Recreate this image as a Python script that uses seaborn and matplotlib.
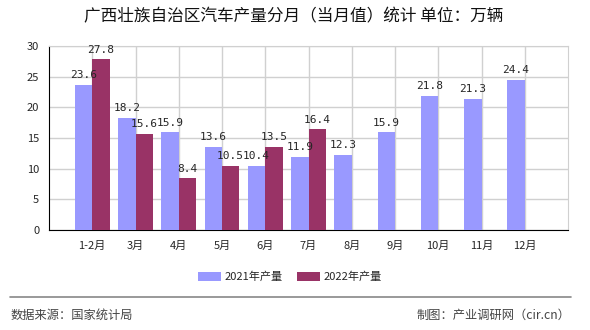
import matplotlib
matplotlib.use("Agg")
import matplotlib.pyplot as plt
import seaborn as sns
import pandas as pd
import numpy as np
from matplotlib.patches import Patch

months = ["1-2月", "3月", "4月", "5月", "6月", "7月", "8月", "9月", "10月", "11月", "12月"]
v2021 = [23.6, 18.2, 15.9, 13.6, 10.4, 11.9, 12.3, 15.9, 21.8, 21.3, 24.4]
v2022 = [27.8, 15.6, 8.4, 10.5, 13.5, 16.4, None, None, None, None, None]
series = ["2021年产量", "2022年产量"]
colors = ["#9999FF", "#993366"]
yticks = [0, 5, 10, 15, 20, 25, 30]

sns.set_style("white")
plt.rcParams['font.family'] = ['Noto Sans CJK SC', 'DejaVu Sans']

df = pd.DataFrame({
    "month": months * 2,
    "value": v2021 + v2022,
    "series": [series[0]] * len(months) + [series[1]] * len(months),
})

fig = plt.figure(figsize=(5.9, 3.3), dpi=100)
ax = fig.add_axes([49/590, 1 - 230/330, (568-49)/590, (230-46)/330])

sns.barplot(data=df, x="month", y="value", hue="series", order=months,
            hue_order=series, palette=colors, width=0.8, saturation=1,
            ax=ax, legend=False, zorder=3)

for patch in ax.patches:
    patch.set_edgecolor("none")

ax.set_xlim(-1, 11)
ax.set_ylim(0, 30)
ax.set_yticks(yticks)
ax.set_xticks(range(len(months)))
ax.set_xticklabels(months)
ax.set_xlabel("")
ax.set_ylabel("")

ax.grid(True, axis="both", color="#d0d0d0", linewidth=1, zorder=0)
ax.set_axisbelow(True)
ax.spines["top"].set_color("#d0d0d0")
ax.spines["right"].set_color("#d0d0d0")
ax.spines["left"].set_color("black")
ax.spines["bottom"].set_color("black")
ax.tick_params(axis="both", length=4, width=1, color="black", labelsize=8, pad=3)
ax.tick_params(axis="x", pad=4)
ax.set_xticks([-1, 11], minor=True)
ax.tick_params(axis="x", which="minor", length=4, width=1, color="black")

for cont in ax.containers:
    for rect in cont:
        h = rect.get_height()
        if h is None or np.isnan(h) or h == 0:
            continue
        ax.text(rect.get_x() + rect.get_width() / 2, h + 0.8, f"{h:.1f}",
                ha="center", va="bottom", fontsize=8,
                family=["DejaVu Sans Mono"], zorder=5)

fig.text(294/590, 1 - 17/330, "广西壮族自治区汽车产量分月（当月值）统计 单位：万辆",
         ha="center", va="center", fontsize=12, color="#111111")

handles = [Patch(facecolor=c, edgecolor="none") for c in colors]
fig.legend(handles, series, loc="center", bbox_to_anchor=(290/590, 1 - 277/330),
           ncol=2, frameon=False, fontsize=8, handlelength=2.1, handleheight=0.9,
           columnspacing=1.3, handletextpad=0.3)

fig.add_artist(plt.Line2D([10/590, 571/590], [1 - 297/330, 1 - 297/330],
                          color="#888888", linewidth=1.2))
fig.text(11/590, 1 - 315/330, "数据来源：国家统计局", ha="left", va="center",
         fontsize=8.8, color="#444444")
fig.text(570/590, 1 - 315/330, "制图：产业调研网（cir.cn）", ha="right", va="center",
         fontsize=8.8, color="#444444")

fig.savefig("out.png", dpi=100)
